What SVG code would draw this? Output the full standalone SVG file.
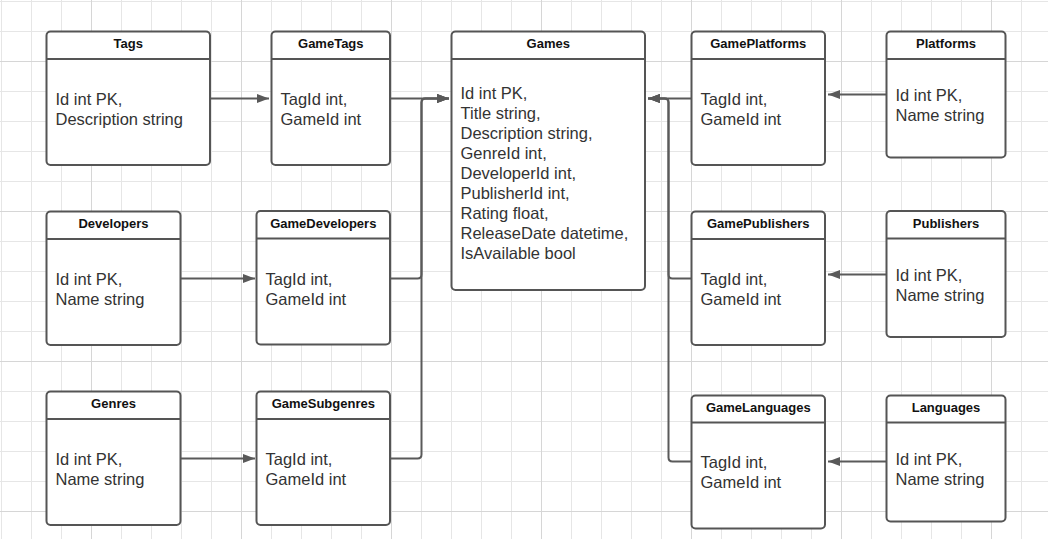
<svg xmlns="http://www.w3.org/2000/svg" width="1048" height="539" viewBox="0 0 1048 539">
<defs>
<pattern id="minor" patternUnits="userSpaceOnUse" x="1" y="1" width="30" height="30">
<path d="M0.5 0V30M0 0.5H30" stroke="#e6e6e6" stroke-width="1" fill="none"/>
</pattern>
<pattern id="major" patternUnits="userSpaceOnUse" x="91" y="61" width="150" height="150">
<path d="M0.5 0V150M0 0.5H150" stroke="#d6d6d6" stroke-width="1" fill="none"/>
</pattern>
<marker id="arr" markerUnits="userSpaceOnUse" markerWidth="14" markerHeight="10" refX="12" refY="4.5" orient="auto">
<path d="M0 0L12 4.5L0 9Z" fill="#595959"/>
</marker>
</defs>
<style>
.box{fill:#fff;stroke:#555;stroke-width:2}
.hdr{stroke:#555;stroke-width:2}
.ttl{font-family:"Liberation Sans",Arial,sans-serif;font-size:13px;font-weight:bold;fill:#111;text-anchor:middle}
.bd{font-family:"Liberation Sans",Arial,sans-serif;font-size:16.5px;fill:#333}
.cn{fill:none;stroke:#5a5a5a;stroke-width:2}
</style>
<rect width="1048" height="539" fill="#fff"/>
<rect width="1048" height="539" fill="url(#minor)"/>
<rect width="1048" height="539" fill="url(#major)"/>

<g id="connectors">
<path class="cn" d="M211 98.5H269" marker-end="url(#arr)"/>
<path class="cn" d="M391 98.5H449" marker-end="url(#arr)"/>
<path class="cn" d="M391 278.5H417.5Q421.5 278.5 421.5 274.5V102.5Q421.5 98.5 425.5 98.5H449" marker-end="url(#arr)"/>
<path class="cn" d="M391 458.5H417.5Q421.5 458.5 421.5 454.5V102.5Q421.5 98.5 425.5 98.5H449" marker-end="url(#arr)"/>
<path class="cn" d="M181 278.5H255" marker-end="url(#arr)"/>
<path class="cn" d="M181 458.5H255" marker-end="url(#arr)"/>
<path class="cn" d="M691 98.5H648" marker-end="url(#arr)"/>
<path class="cn" d="M691 278.5H672.5Q668.5 278.5 668.5 274.5V102.5Q668.5 98.5 664.5 98.5H648" marker-end="url(#arr)"/>
<path class="cn" d="M691 461.5H672.5Q668.5 461.5 668.5 457.5V102.5Q668.5 98.5 664.5 98.5H648" marker-end="url(#arr)"/>
<path class="cn" d="M886 94.5H828" marker-end="url(#arr)"/>
<path class="cn" d="M886 274.5H828" marker-end="url(#arr)"/>
<path class="cn" d="M886 461.5H828" marker-end="url(#arr)"/>
</g>

<g id="tags">
<rect class="box" x="46.5" y="31.5" width="163.5" height="133.5" rx="4"/>
<line class="hdr" x1="46.5" y1="59" x2="210" y2="59"/>
<text class="ttl" x="128.3" y="48">Tags</text>
<text class="bd" x="55.5" y="104.5">Id int PK,</text>
<text class="bd" x="55.5" y="124.5">Description string</text>
</g>

<g id="gametags">
<rect class="box" x="271.5" y="31.5" width="118.5" height="133.5" rx="4"/>
<line class="hdr" x1="271.5" y1="59" x2="390" y2="59"/>
<text class="ttl" x="330.8" y="48">GameTags</text>
<text class="bd" x="280.5" y="104.5">TagId int,</text>
<text class="bd" x="280.5" y="124.5">GameId int</text>
</g>

<g id="games">
<rect class="box" x="451.5" y="31.5" width="193.5" height="258.5" rx="4"/>
<line class="hdr" x1="451.5" y1="59" x2="645" y2="59"/>
<text class="ttl" x="548.3" y="48">Games</text>
<text class="bd" x="460.5" y="99">Id int PK,</text>
<text class="bd" x="460.5" y="119">Title string,</text>
<text class="bd" x="460.5" y="139">Description string,</text>
<text class="bd" x="460.5" y="159">GenreId int,</text>
<text class="bd" x="460.5" y="179">DeveloperId int,</text>
<text class="bd" x="460.5" y="199">PublisherId int,</text>
<text class="bd" x="460.5" y="219">Rating float,</text>
<text class="bd" x="460.5" y="239">ReleaseDate datetime,</text>
<text class="bd" x="460.5" y="259">IsAvailable bool</text>
</g>

<g id="gameplatforms">
<rect class="box" x="691.5" y="31.5" width="133.5" height="133.5" rx="4"/>
<line class="hdr" x1="691.5" y1="59" x2="825" y2="59"/>
<text class="ttl" x="758.3" y="48">GamePlatforms</text>
<text class="bd" x="700.5" y="104.5">TagId int,</text>
<text class="bd" x="700.5" y="124.5">GameId int</text>
</g>

<g id="platforms">
<rect class="box" x="886.5" y="31.5" width="119" height="126" rx="4"/>
<line class="hdr" x1="886.5" y1="59" x2="1005.5" y2="59"/>
<text class="ttl" x="946" y="48">Platforms</text>
<text class="bd" x="895.5" y="101">Id int PK,</text>
<text class="bd" x="895.5" y="121">Name string</text>
</g>

<g id="developers">
<rect class="box" x="46.5" y="211.5" width="134" height="133.5" rx="4"/>
<line class="hdr" x1="46.5" y1="239" x2="180.5" y2="239"/>
<text class="ttl" x="113.5" y="228">Developers</text>
<text class="bd" x="55.5" y="284.5">Id int PK,</text>
<text class="bd" x="55.5" y="304.5">Name string</text>
</g>

<g id="gamedevelopers">
<rect class="box" x="256.5" y="211" width="133.5" height="133.5" rx="4"/>
<line class="hdr" x1="256.5" y1="238.5" x2="390" y2="238.5"/>
<text class="ttl" x="323.3" y="228">GameDevelopers</text>
<text class="bd" x="265.5" y="284.5">TagId int,</text>
<text class="bd" x="265.5" y="304.5">GameId int</text>
</g>

<g id="gamepublishers">
<rect class="box" x="691.5" y="211.5" width="133.5" height="133.5" rx="4"/>
<line class="hdr" x1="691.5" y1="239" x2="825" y2="239"/>
<text class="ttl" x="758.3" y="228">GamePublishers</text>
<text class="bd" x="700.5" y="284.5">TagId int,</text>
<text class="bd" x="700.5" y="304.5">GameId int</text>
</g>

<g id="publishers">
<rect class="box" x="886.5" y="211" width="119" height="126" rx="4"/>
<line class="hdr" x1="886.5" y1="238.5" x2="1005.5" y2="238.5"/>
<text class="ttl" x="946" y="228">Publishers</text>
<text class="bd" x="895.5" y="280.5">Id int PK,</text>
<text class="bd" x="895.5" y="300.5">Name string</text>
</g>

<g id="genres">
<rect class="box" x="46.5" y="391.5" width="134" height="133.5" rx="4"/>
<line class="hdr" x1="46.5" y1="419" x2="180.5" y2="419"/>
<text class="ttl" x="113.5" y="408">Genres</text>
<text class="bd" x="55.5" y="464.5">Id int PK,</text>
<text class="bd" x="55.5" y="484.5">Name string</text>
</g>

<g id="gamesubgenres">
<rect class="box" x="256.5" y="391.5" width="133.5" height="133.5" rx="4"/>
<line class="hdr" x1="256.5" y1="419" x2="390" y2="419"/>
<text class="ttl" x="323.3" y="408">GameSubgenres</text>
<text class="bd" x="265.5" y="464.5">TagId int,</text>
<text class="bd" x="265.5" y="484.5">GameId int</text>
</g>

<g id="gamelanguages">
<rect class="box" x="691.5" y="395.5" width="133.5" height="133" rx="4"/>
<line class="hdr" x1="691.5" y1="422.5" x2="825" y2="422.5"/>
<text class="ttl" x="758.3" y="411.5">GameLanguages</text>
<text class="bd" x="700.5" y="468">TagId int,</text>
<text class="bd" x="700.5" y="488">GameId int</text>
</g>

<g id="languages">
<rect class="box" x="886.5" y="395.5" width="119" height="126" rx="4"/>
<line class="hdr" x1="886.5" y1="422.5" x2="1005.5" y2="422.5"/>
<text class="ttl" x="946" y="411.5">Languages</text>
<text class="bd" x="895.5" y="464.5">Id int PK,</text>
<text class="bd" x="895.5" y="484.5">Name string</text>
</g>
</svg>
